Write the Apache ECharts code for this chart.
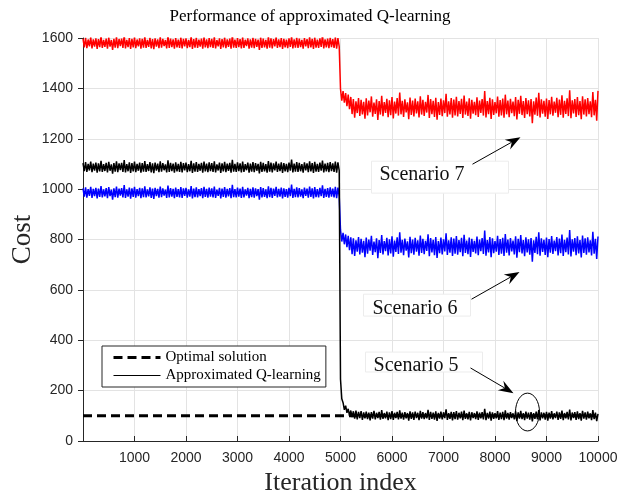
<!DOCTYPE html>
<html>
<head>
<meta charset="utf-8">
<script src="https://cdn.jsdelivr.net/npm/echarts@6/dist/echarts.min.js"></script>
<style>
  html, body { margin: 0; padding: 0; background: #fff; }
  #chart { width: 620px; height: 491px; }
</style>
</head>
<body>
<div id="chart"></div>
<script>
// Cost samples, one every 25 iterations. "Before" covers iterations 0..4975,
// "after" covers 5000..10000 (the scenario switch happens at iteration 5000).
const sampleStep = 25;
const switchIteration = 5000;
const optimalCost = 100;

const scenario7Before = [
  1597,1563,1601,1560,1594,1567,1603,1559,1595,1566,
  1599,1557,1596,1564,1606,1561,1593,1565,1598,1558,
  1602,1566,1592,1553,1597,1562,1604,1560,1596,1568,
  1598,1561,1610,1559,1593,1564,1600,1557,1597,1563,
  1603,1560,1594,1567,1599,1558,1597,1562,1605,1561,
  1593,1565,1601,1559,1596,1556,1599,1566,1595,1560,
  1604,1562,1597,1568,1592,1559,1608,1561,1598,1564,
  1595,1558,1600,1563,1594,1561,1602,1559,1597,1567,
  1599,1560,1593,1564,1606,1557,1596,1562,1601,1561,
  1594,1566,1598,1558,1603,1563,1595,1560,1600,1564,
  1597,1561,1604,1559,1592,1567,1599,1557,1596,1563,
  1602,1560,1595,1565,1598,1558,1611,1562,1594,1561,
  1600,1564,1596,1559,1603,1561,1593,1568,1599,1558,
  1595,1562,1601,1560,1597,1565,1594,1553,1602,1561,
  1598,1563,1593,1558,1605,1562,1599,1559,1596,1567,
  1603,1561,1595,1564,1600,1557,1597,1563,1594,1560,
  1599,1565,1606,1559,1595,1562,1601,1561,1598,1564,
  1593,1558,1600,1567,1596,1560,1604,1563,1597,1557,
  1602,1562,1594,1561,1599,1565,1612,1559,1595,1563,
  1598,1560,1601,1564,1596,1561,1603,1558,1600,1566
];
const scenario7After = [
  1398,1351,1389,1343,1381,1329,1375,1317,1366,1298,
  1358,1284,1349,1302,1362,1291,1355,1297,1347,1280,
  1361,1293,1352,1305,1368,1288,1344,1299,1357,1275,
  1350,1296,1371,1290,1346,1303,1359,1286,1353,1294,
  1366,1281,1348,1300,1362,1292,1383,1297,1351,1287,
  1357,1305,1345,1278,1364,1295,1352,1289,1360,1301,
  1349,1285,1369,1296,1355,1291,1347,1304,1374,1283,
  1358,1298,1351,1287,1363,1276,1346,1295,1360,1290,
  1353,1302,1378,1288,1349,1297,1362,1284,1356,1293,
  1367,1289,1350,1299,1359,1283,1372,1296,1348,1291,
  1361,1280,1355,1300,1347,1294,1365,1287,1352,1303,
  1358,1292,1389,1285,1350,1298,1363,1279,1357,1295,
  1346,1301,1368,1288,1354,1293,1360,1284,1375,1297,
  1352,1286,1359,1302,1348,1290,1366,1277,1355,1299,
  1371,1294,1350,1283,1362,1298,1353,1289,1358,1262,
  1349,1296,1364,1291,1382,1285,1357,1300,1351,1288,
  1360,1279,1354,1297,1367,1292,1348,1303,1363,1286,
  1356,1295,1373,1284,1351,1299,1361,1290,1392,1282,
  1353,1301,1358,1287,1366,1294,1350,1278,1369,1296,
  1357,1289,1362,1298,1349,1286,1385,1293,1355,1272,
  1390
];

const scenario6Before = [
  1003,970,1007,966,1000,973,1009,965,1001,972,
  1005,963,1002,969,1012,967,999,971,1004,964,
  1008,972,998,958,1003,968,1010,966,1002,974,
  1004,967,1016,965,999,970,1006,962,1003,969,
  1009,966,1000,972,1005,964,1003,968,1011,967,
  999,971,1007,965,1002,961,1005,972,1001,966,
  1010,968,1003,974,998,965,1014,967,1004,970,
  1001,964,1006,969,1000,967,1008,965,1003,973,
  1005,966,999,970,1012,963,1002,968,1007,967,
  1000,972,1004,964,1009,969,1001,966,1006,970,
  1003,967,1010,965,998,973,1005,963,1002,969,
  1008,966,1001,971,1004,964,1017,968,1000,967,
  1006,970,1002,965,1009,967,999,974,1005,964,
  1001,968,1007,966,1003,972,1000,958,1008,967,
  1004,969,999,964,1011,968,1005,965,1002,973,
  1009,967,1001,970,1006,963,1003,969,1000,966,
  1005,972,1018,965,1001,968,1007,967,1004,970,
  999,964,1006,973,1002,966,1010,969,1003,963,
  1008,968,1000,967,1005,972,1015,965,1001,969,
  1004,966,1007,970,1002,967,1009,964,1006,972
];
const scenario6After = [
  838,792,826,781,820,770,815,758,809,742,
  805,735,797,752,810,741,803,748,795,730,
  808,744,800,756,815,739,792,750,805,726,
  798,747,818,741,794,754,807,737,801,745,
  813,732,796,751,809,743,829,748,799,738,
  804,756,793,729,811,746,800,740,807,752,
  797,736,816,747,803,742,795,755,821,734,
  806,749,799,738,810,727,794,746,808,741,
  801,753,825,739,797,748,809,735,804,744,
  814,740,798,750,807,734,819,747,796,742,
  808,731,803,751,795,745,812,738,800,754,
  806,743,836,736,798,749,810,730,805,746,
  794,752,815,739,802,744,807,735,822,748,
  800,737,806,753,796,741,813,728,803,750,
  818,745,798,734,809,749,801,740,806,712,
  797,747,811,742,829,736,805,751,799,739,
  808,730,802,748,814,743,796,754,810,737,
  804,746,820,735,799,750,808,741,838,733,
  801,752,806,738,813,745,798,729,816,747,
  805,740,809,749,797,737,831,744,803,723,
  812
];

const scenario5Before = [
  1103,1071,1107,1068,1100,1074,1109,1067,1101,1073,
  1105,1065,1102,1070,1112,1068,1099,1072,1104,1066,
  1108,1073,1098,1061,1103,1069,1110,1067,1102,1075,
  1104,1068,1115,1066,1099,1071,1106,1064,1103,1070,
  1109,1067,1100,1073,1105,1065,1103,1069,1111,1068,
  1099,1072,1107,1066,1102,1063,1105,1073,1101,1067,
  1110,1069,1103,1075,1098,1066,1114,1068,1104,1071,
  1101,1065,1106,1070,1100,1068,1108,1066,1103,1074,
  1105,1067,1099,1071,1112,1064,1102,1069,1107,1068,
  1100,1073,1104,1065,1109,1070,1101,1067,1106,1071,
  1103,1068,1110,1066,1098,1074,1105,1064,1102,1070,
  1108,1067,1101,1072,1104,1065,1116,1069,1100,1068,
  1106,1071,1102,1066,1109,1068,1099,1075,1105,1065,
  1101,1069,1107,1067,1103,1073,1100,1062,1108,1068,
  1104,1070,1099,1065,1111,1069,1105,1066,1102,1074,
  1109,1068,1101,1071,1106,1064,1103,1070,1100,1067,
  1105,1073,1117,1066,1101,1069,1107,1068,1104,1071,
  1099,1065,1106,1074,1102,1067,1110,1070,1103,1064,
  1108,1069,1100,1068,1105,1073,1113,1066,1101,1070,
  1104,1067,1107,1071,1102,1068,1109,1065,1106,1073
];
const scenario5After = [
  245,168,152,124,140,112,128,100,121,95,
  118,89,121,86,116,91,119,84,114,90,
  117,87,113,82,115,89,120,86,112,91,
  116,85,123,88,111,90,117,83,114,87,
  119,84,112,91,116,86,122,89,113,85,
  115,90,111,81,118,88,114,84,117,91,
  112,83,120,89,115,87,111,90,124,84,
  116,88,113,85,118,80,112,89,117,86,
  114,91,126,84,111,88,116,82,115,87,
  119,85,112,90,117,83,121,88,110,86,
  116,82,114,91,111,87,118,84,113,90,
  115,86,128,83,112,89,117,81,114,88,
  110,90,119,84,113,87,116,83,122,89,
  112,85,115,91,110,86,118,80,114,89,
  120,87,111,83,117,89,113,85,115,78,
  111,88,117,86,123,82,114,90,112,85,
  116,81,113,89,119,86,110,91,117,84,
  114,88,121,83,111,90,116,86,125,82,
  113,91,115,84,118,87,111,81,120,89,
  114,85,117,90,110,83,123,87,113,79,
  108
];

const legendNames = ['Optimal solution', 'Approximated Q-learning'];
const xTicks = { min: 0, max: 10000, step: 1000 };
const yTicks = { min: 0, max: 1600, step: 200 };

// Callouts, placed in data coordinates: text box, label anchor, arrow from/to,
// and an optional ring [cx, cy, rx, ry].
const callouts = [
  { text: 'Scenario 7', box: [5602, 984, 8262, 1111], textAt: [5757, 1056],
    arrow: [7563, 1099, 8495, 1206] },
  { text: 'Scenario 6', box: [5447, 496, 7524, 583], textAt: [5621, 526],
    arrow: [7544, 563, 8476, 671] },
  { text: 'Scenario 5', box: [5485, 274, 7757, 353], textAt: [5641, 300],
    arrow: [7524, 290, 8359, 190], ring: [8631, 115, 233, 75] }
];

function toPoints(before, after) {
  const pts = [];
  before.forEach((v, i) => pts.push([i * sampleStep, v]));
  after.forEach((v, i) => pts.push([switchIteration + i * sampleStep, v]));
  return pts;
}

const SERIF = '"Liberation Serif", "Times New Roman", serif';
const SANS = '"Liberation Sans", Arial, Helvetica, sans-serif';
const AXIS_COLOR = '#262626';
const GRID_COLOR = '#e3e3e3';

function costLine(name, color, before, after, z) {
  return {
    name: name,
    type: 'line',
    data: toPoints(before, after),
    showSymbol: false,
    symbol: 'none',
    sampling: null,
    lineStyle: { color: color, width: 1.5 },
    itemStyle: { color: color },
    z: z,
    silent: true
  };
}

function drawCallout(params, api) {
  const c = callouts[params.dataIndex];
  const tl = api.coord([c.box[0], c.box[3]]);
  const br = api.coord([c.box[2], c.box[1]]);
  const t = api.coord(c.textAt);
  const a0 = api.coord([c.arrow[0], c.arrow[1]]);
  const a1 = api.coord([c.arrow[2], c.arrow[3]]);
  const ang = Math.atan2(a1[1] - a0[1], a1[0] - a0[0]);
  const ux = Math.cos(ang), uy = Math.sin(ang);
  const px = -uy, py = ux;
  const L = 15, W = 5.5, N = 10;
  const head = [
    [a1[0], a1[1]],
    [a1[0] - L * ux + W * px, a1[1] - L * uy + W * py],
    [a1[0] - N * ux, a1[1] - N * uy],
    [a1[0] - L * ux - W * px, a1[1] - L * uy - W * py]
  ];
  const children = [
    { type: 'rect',
      shape: { x: tl[0], y: tl[1], width: br[0] - tl[0], height: br[1] - tl[1] },
      style: { fill: '#fff', stroke: '#ececec', lineWidth: 1 } },
    { type: 'text', x: t[0], y: t[1],
      style: { text: c.text, fill: '#111', fontFamily: SERIF, fontSize: 20,
               align: 'left', verticalAlign: 'middle' } },
    { type: 'line',
      shape: { x1: a0[0], y1: a0[1], x2: a1[0] - N * ux, y2: a1[1] - N * uy },
      style: { stroke: '#000', lineWidth: 1 } },
    { type: 'polygon', shape: { points: head }, style: { fill: '#000' } }
  ];
  if (c.ring) {
    const ctr = api.coord([c.ring[0], c.ring[1]]);
    const sz = api.size([c.ring[2], c.ring[3]]);
    children.push({ type: 'ellipse',
      shape: { cx: ctr[0], cy: ctr[1], rx: sz[0], ry: sz[1] },
      style: { fill: 'none', stroke: '#000', lineWidth: 1 } });
  }
  return { type: 'group', children: children };
}

const plainNumber = v => String(v);

const chart = echarts.init(document.getElementById('chart'), null, { renderer: 'canvas' });

chart.setOption({
  animation: false,
  backgroundColor: '#fff',
  title: {
    text: 'Performance of approximated Q-learning',
    left: 'center',
    top: 8,
    padding: 0,
    textStyle: { fontFamily: SERIF, fontSize: 17, fontWeight: 'normal', color: '#000' }
  },
  grid: { left: 83, right: 22, top: 38, bottom: 50, containLabel: false, outerBoundsMode: 'none' },
  legend: {
    data: [
      { name: legendNames[0], lineStyle: { width: 3 } },
      { name: legendNames[1], lineStyle: { width: 1 } }
    ],
    orient: 'vertical',
    left: 102,
    top: 346,
    padding: [4, 5, 4, 10],
    itemGap: 3,
    itemWidth: 47,
    itemHeight: 14,
    borderColor: AXIS_COLOR,
    borderWidth: 1,
    borderRadius: 0,
    backgroundColor: '#fff',
    selectedMode: false,
    itemStyle: { opacity: 0, borderWidth: 0 },
    textStyle: { fontFamily: SERIF, fontSize: 15, color: '#000' }
  },
  xAxis: {
    type: 'value',
    min: xTicks.min,
    max: xTicks.max,
    interval: xTicks.step,
    name: 'Iteration index',
    nameLocation: 'middle',
    nameGap: 23,
    nameTextStyle: { fontFamily: SERIF, fontSize: 26, color: '#262626' },
    axisLine: { show: true, onZero: false, lineStyle: { color: AXIS_COLOR, width: 1 } },
    axisTick: { show: true, inside: true, length: 5, lineStyle: { color: AXIS_COLOR } },
    axisLabel: { showMinLabel: false, margin: 10, fontFamily: SANS, fontSize: 14, color: AXIS_COLOR,
                 formatter: plainNumber },
    splitLine: { show: true, lineStyle: { color: GRID_COLOR, width: 1 } }
  },
  yAxis: {
    type: 'value',
    min: yTicks.min,
    max: yTicks.max,
    interval: yTicks.step,
    name: 'Cost',
    nameLocation: 'middle',
    nameGap: 47,
    nameMoveOverlap: false,
    nameTextStyle: { fontFamily: SERIF, fontSize: 27, color: '#262626' },
    axisLine: { show: true, onZero: false, lineStyle: { color: AXIS_COLOR, width: 1 } },
    axisTick: { show: true, inside: false, length: 5, lineStyle: { color: AXIS_COLOR } },
    axisLabel: { margin: 10, fontFamily: SANS, fontSize: 14, color: AXIS_COLOR, formatter: plainNumber },
    splitLine: { show: true, lineStyle: { color: GRID_COLOR, width: 1 } }
  },
  series: [
    {
      name: legendNames[0],
      type: 'line',
      data: [[xTicks.min, optimalCost], [xTicks.max, optimalCost]],
      showSymbol: false,
      symbol: 'none',
      lineStyle: { color: '#000', width: 3, type: [9, 5] },
      itemStyle: { color: '#000' },
      z: 2,
      silent: true
    },
    costLine('Scenario 7', '#ff0000', scenario7Before, scenario7After, 3),
    costLine('Scenario 6', '#0000ff', scenario6Before, scenario6After, 4),
    costLine(legendNames[1], '#000000', scenario5Before, scenario5After, 5),
    {
      name: 'callouts',
      type: 'custom',
      coordinateSystem: 'cartesian2d',
      data: callouts.map(c => [c.box[0], c.box[1]]),
      renderItem: drawCallout,
      silent: true,
      clip: false,
      z: 10
    }
  ]
});
</script>
</body>
</html>
